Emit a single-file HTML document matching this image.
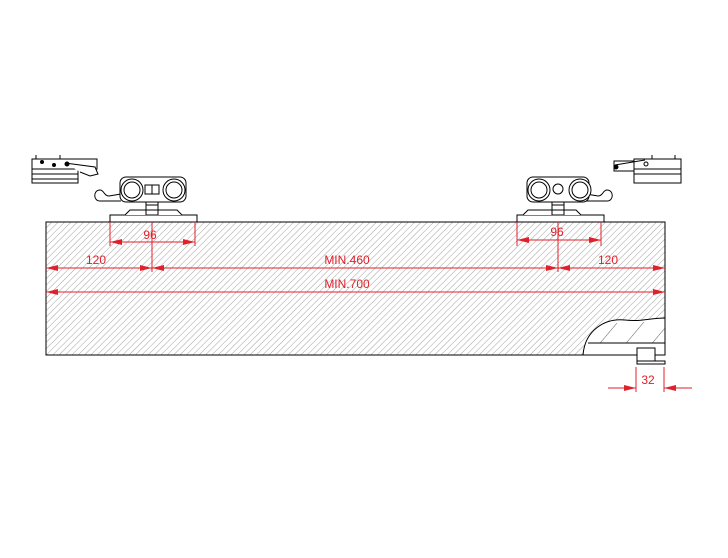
<!DOCTYPE html>
<html><head><style>html,body{margin:0;padding:0;background:#fff;}svg{display:block}</style></head>
<body>
<svg width="728" height="558" viewBox="0 0 728 558" xmlns="http://www.w3.org/2000/svg" font-family="Liberation Sans, sans-serif">
<defs>
<pattern id="h" width="4.5" height="4.5" patternUnits="userSpaceOnUse" patternTransform="rotate(45)">
<line x1="0" y1="0" x2="0" y2="5" stroke="#999" stroke-width="0.9"/></pattern>
<pattern id="h2" width="20" height="20" patternUnits="userSpaceOnUse" patternTransform="rotate(40)">
<line x1="0" y1="0" x2="0" y2="20" stroke="#333" stroke-width="0.8"/></pattern>
<marker id="a" markerWidth="12" markerHeight="6" refX="12" refY="3" orient="auto-start-reverse" markerUnits="userSpaceOnUse">
<path d="M0,0 L12,3 L0,6 z" fill="#e0202a"/></marker>
</defs>
<rect x="46" y="222" width="619" height="133" fill="url(#h)" stroke="#000" stroke-width="1"/>
<path d="M583,355 C585,330 605,318 625,320 C640,322 650,318 665,318 L665,355 Z" fill="#fff" stroke="#000" stroke-width="1"/>
<path d="M590,343 C592,330 605,322 625,323 C640,324 650,320 665,320 L665,343 Z" fill="url(#h2)"/>
<line x1="588" y1="343" x2="665" y2="343" stroke="#000"/>
<rect x="637" y="348" width="18" height="13" fill="#fff" stroke="#000"/>
<rect x="637" y="361" width="28" height="3" fill="#fff" stroke="#000"/>
<g fill="#fff" stroke="#000" stroke-width="1">
<rect x="110" y="215" width="87" height="7"/>
<path d="M125,215 L130,210 L177,210 L182,215" fill="#fff"/>
<rect x="146" y="200" width="12" height="15"/>
<line x1="146" y1="205" x2="158" y2="205"/><line x1="146" y1="210" x2="158" y2="210"/>
<path d="M121,201 L100,201 C93,201 93,190 100,190 C104,190 104,196 109,196 L121,194" fill="#fff"/>
<rect x="120" y="177" width="66" height="25" rx="6"/>
<circle cx="132" cy="190" r="11"/><circle cx="132" cy="190" r="8"/>
<circle cx="174" cy="190" r="11"/><circle cx="174" cy="190" r="8"/>
<rect x="145" y="185" width="14" height="9"/><line x1="152" y1="185" x2="152" y2="194"/>
</g>
<g fill="#fff" stroke="#000" stroke-width="1">
<rect x="517" y="215" width="87" height="7"/>
<path d="M523,215 L528,210 L576,210 L581,215"/>
<rect x="552" y="200" width="12" height="15"/>
<line x1="552" y1="205" x2="564" y2="205"/><line x1="552" y1="210" x2="564" y2="210"/>
<path d="M586,201 L607,201 C614,201 614,190 607,190 C603,190 603,196 598,196 L586,194"/>
<rect x="527" y="177" width="62" height="25" rx="6"/>
<circle cx="539" cy="190" r="11"/><circle cx="539" cy="190" r="8"/>
<circle cx="580" cy="190" r="11"/><circle cx="580" cy="190" r="8"/>
<circle cx="558" cy="189" r="5"/>
</g>
<g fill="#fff" stroke="#000" stroke-width="1">
<rect x="32" y="159" width="65" height="10"/>
<rect x="32" y="169" width="46" height="14"/>
<line x1="32" y1="174" x2="78" y2="174"/><line x1="32" y1="179" x2="78" y2="179"/>
<path d="M65,163 L95,167 L98,174 L90,176 L80,172"/>
<circle cx="42" cy="162" r="1.5" fill="#000"/><circle cx="54" cy="165" r="1.5" fill="#000"/><circle cx="67" cy="164" r="2" fill="#000"/>
<line x1="36" y1="159" x2="36" y2="155"/><line x1="60" y1="159" x2="60" y2="155"/>
<rect x="634" y="159" width="47" height="10"/>
<rect x="634" y="169" width="47" height="14"/>
<line x1="634" y1="174" x2="681" y2="174"/>
<rect x="614" y="161" width="20" height="10"/>
<path d="M615,165 L645,160" /><circle cx="616" cy="167" r="2" fill="#000"/><circle cx="646" cy="164" r="2"/>
<line x1="652" y1="159" x2="652" y2="155"/><line x1="675" y1="159" x2="675" y2="155"/>
</g>
<g stroke="#e0202a" stroke-width="1" fill="none">
<line x1="110" y1="222" x2="110" y2="246"/><line x1="195" y1="222" x2="195" y2="246"/>
<line x1="110" y1="242" x2="195" y2="242" marker-start="url(#a)" marker-end="url(#a)"/>
<line x1="517" y1="222" x2="517" y2="246"/><line x1="601" y1="222" x2="601" y2="246"/>
<line x1="517" y1="240" x2="601" y2="240" marker-start="url(#a)" marker-end="url(#a)"/>
<line x1="152" y1="222" x2="152" y2="272"/><line x1="558" y1="222" x2="558" y2="272"/>
<line x1="46" y1="268" x2="152" y2="268" marker-start="url(#a)" marker-end="url(#a)"/>
<line x1="152" y1="268" x2="558" y2="268" marker-start="url(#a)" marker-end="url(#a)"/>
<line x1="558" y1="268" x2="665" y2="268" marker-start="url(#a)" marker-end="url(#a)"/>
<line x1="46" y1="292" x2="665" y2="292" marker-start="url(#a)" marker-end="url(#a)"/>
<line x1="636" y1="367" x2="636" y2="392"/><line x1="664" y1="367" x2="664" y2="392"/>
<line x1="608" y1="388" x2="636" y2="388" marker-end="url(#a)"/>
<line x1="692" y1="388" x2="664" y2="388" marker-end="url(#a)"/>
</g>
<g fill="#e0202a" font-size="12" text-anchor="middle">
<text x="150" y="239">96</text><text x="557" y="236">96</text>
<text x="96" y="264">120</text><text x="347" y="264">MIN.460</text><text x="608" y="264">120</text>
<text x="347" y="288">MIN.700</text><text x="648" y="384">32</text>
</g>
</svg>
</body></html>
